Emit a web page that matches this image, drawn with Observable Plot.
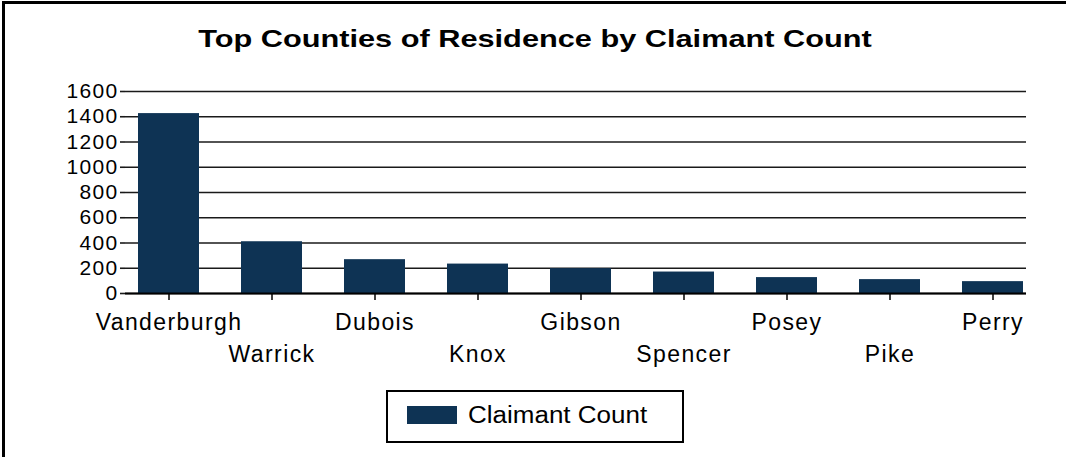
<!DOCTYPE html>
<html>
<head>
<meta charset="utf-8">
<script src="https://cdn.jsdelivr.net/npm/d3@7"></script>
<script src="https://cdn.jsdelivr.net/npm/@observablehq/plot@0.6"></script>
<style>
  html, body { margin: 0; padding: 0; background: #fff; }
  #wrap { position: relative; width: 1066px; height: 458px; overflow: hidden; font-family: "Liberation Sans", Arial, sans-serif; color: #000; }
  #frameTop { position: absolute; left: 2px; top: 1px; width: 1064px; height: 3px; background: #000; }
  #frameLeft { position: absolute; left: 2px; top: 1px; width: 3px; height: 456px; background: #000; }
  #title { position: absolute; left: 535px; top: 24px; white-space: nowrap; font-weight: bold; font-size: 24px; line-height: 30px; transform: translateX(-50%) scaleX(1.28); transform-origin: center; }
  #chart { position: absolute; left: 0; top: 70px; }
  #legend { position: absolute; left: 386px; top: 390px; width: 294px; height: 49px; border: 2px solid #000; box-sizing: content-box; }
  #legend .sw { position: absolute; left: 19px; top: 14px; width: 50px; height: 18px; background: #0e3354; }
  #legend .lab { position: absolute; left: 80px; top: 11px; white-space: nowrap; font-size: 23px; line-height: 24px; transform: scaleX(1.13); transform-origin: left center; }
</style>
</head>
<body>
<div id="wrap">
  <div id="frameTop"></div>
  <div id="frameLeft"></div>
  <div id="title">Top Counties of Residence by Claimant Count</div>
  <div id="chart"></div>
  <div id="legend"><div class="sw"></div><div class="lab">Claimant Count</div></div>
</div>
<script>
const counties = ["Vanderburgh", "Warrick", "Dubois", "Knox", "Gibson", "Spencer", "Posey", "Pike", "Perry"];
const claimantCounts = [1425, 410, 268, 233, 197, 170, 126, 110, 94];
const yTicks = [0, 200, 400, 600, 800, 1000, 1200, 1400, 1600];
const barColor = "#0e3354";

const data = counties.map((c, i) => ({county: c, count: claimantCounts[i]}));
const evenTicks = counties.filter((d, i) => i % 2 === 0);
const oddTicks = counties.filter((d, i) => i % 2 === 1);

const chart = Plot.plot({
  width: 1066,
  height: 320,
  marginTop: 21,
  marginBottom: 97,
  marginLeft: 125,
  marginRight: 40,
  style: {
    fontFamily: "'Liberation Sans', Arial, sans-serif",
    fontSize: "21px",
    color: "#000",
    background: "transparent",
    overflow: "visible"
  },
  x: {domain: counties, paddingInner: 0.41, paddingOuter: 0.07, align: 0.83},
  y: {domain: [0, 1600]},
  marks: [
    Plot.gridY(yTicks, {stroke: "#1a1a1a", strokeOpacity: 1, strokeWidth: 1.6}),
    Plot.barY(data, {x: "county", y: "count", fill: barColor}),
    Plot.ruleY([0], {stroke: "#000", strokeWidth: 2}),
    Plot.axisY(yTicks, {tickSize: 5, tickPadding: 2, label: null, fill: "#000", stroke: "#1a1a1a", strokeWidth: 1.6, fontSize: 21, tickFormat: d => String(d)}),
    Plot.axisX(evenTicks, {tickSize: 7, tickPadding: 12.7, label: null, stroke: "#000", strokeWidth: 1.5, fill: "#000", fontSize: 23}),
    Plot.axisX(oddTicks, {tickSize: 7, tickPadding: 44.7, label: null, stroke: "#000", strokeWidth: 1.5, fill: "#000", fontSize: 23})
  ]
});
// widen the category and value labels a little, as in the reference
chart.querySelectorAll("g[aria-label='x-axis tick label'] text, g[aria-label='y-axis tick label'] text").forEach(t => {
  t.style.letterSpacing = t.closest("g[aria-label='x-axis tick label']") ? "1.4px" : "1.3px";
});
document.getElementById("chart").appendChild(chart);
</script>
</body>
</html>
